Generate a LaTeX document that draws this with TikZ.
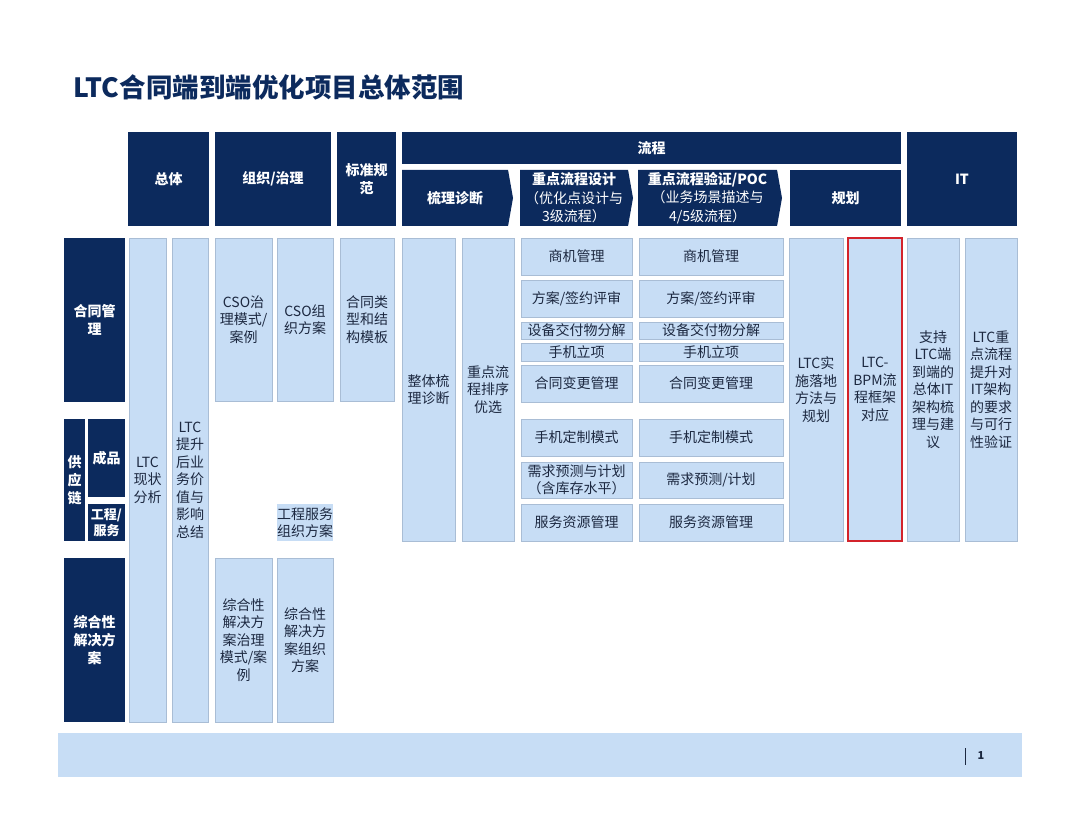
\documentclass[tikz,border=0pt]{standalone}
\usepackage{fontspec}
\setmainfont{Noto Sans CJK SC}
\usepackage{tikz}
\usetikzlibrary{shapes.symbols}
\definecolor{ltcnavy}{HTML}{0C2A5D}
\definecolor{ltcsky}{HTML}{C7DDF5}
\definecolor{ltcedge}{HTML}{A9BDD5}
\definecolor{ltcink}{HTML}{1C2840}
\definecolor{ltcred}{HTML}{D3232B}

\begin{document}
\begin{tikzpicture}[x=1pt, y=-1pt,
  hdr/.style={fill=ltcnavy, text=white, anchor=north west, inner sep=0pt, outer sep=0pt, align=center,
    font=\fontsize{14}{18}\selectfont\bfseries},
  stage/.style={fill=ltcnavy, text=white, anchor=west, inner sep=0pt, outer sep=0pt, align=center,
    signal, signal to=east, signal pointer angle=160, font=\fontsize{14}{18.5}\selectfont},
  cell/.style={fill=ltcsky, draw=ltcedge, line width=0.6pt, text=ltcink, anchor=north west, inner sep=0pt,
    outer sep=0pt, align=center, font=\fontsize{14}{17.5}\selectfont},
  sz/.style 2 args={minimum width=#1pt, minimum height=#2pt}]
  \useasboundingbox (0,0) rectangle (1080,832);

  % Title
  \node[anchor=west, text=ltcnavy, font=\fontsize{26.5}{30}\selectfont\bfseries] (title) at (70,87) {LTC合同端到端优化项目总体范围};

  % Header Row
  \node[hdr, sz={81}{94}] (hdrAll) at (128,132) {总体};
  \node[hdr, sz={116}{94}] (hdrOrg) at (215,132) {组织/治理};
  \node[hdr, sz={59}{94}] (hdrStd) at (337,132) {标准规\\范};
  \node[hdr, sz={499}{32}] (hdrFlow) at (402,132) {流程};
  \node[hdr, sz={110}{94}] (hdrIT) at (907,132) {IT};

  % Process Stages
  \node[stage, sz={111}{56}] (stgDiag) at (402,198) {\bfseries 梳理诊断};
  \node[stage, sz={113}{56}] (stgDesign) at (520,198) {\bfseries 重点流程设计\\（优化点设计与\\3级流程）};
  \node[stage, sz={144}{56}] (stgVerify) at (638,198) {\bfseries 重点流程验证/POC\\（业务场景描述与\\4/5级流程）};
  \node[hdr, sz={111}{56}] (hdrPlan) at (790,170) {规划};

  % Business Areas
  \node[hdr, sz={61}{164}] (sideContract) at (64,238) {合同管\\理};
  \node[hdr, sz={21}{122}] (sideSupply) at (64,419) {供\\应\\链};
  \node[hdr, sz={37}{78}] (sideGoods) at (88,419) {成品};
  \node[hdr, sz={37}{37}, font=\fontsize{13}{16}\selectfont\bfseries] (sideSvc) at (88,504) {工程/\\服务};
  \node[hdr, sz={61}{164}] (sideSolution) at (64,558) {综合性\\解决方\\案};

  % Overall
  \node[cell, sz={37}{484}] (asIs) at (129,238) {LTC\\现状\\分析};
  \node[cell, sz={36}{484}] (toBe) at (172,238) {LTC\\提升\\后业\\务价\\值与\\影响\\总结};

  % Organisation / Governance
  \node[cell, sz={57}{163}] (csoGov) at (215,238) {CSO治\\理模式/\\案例};
  \node[cell, sz={56}{163}] (csoOrg) at (277,238) {CSO组\\织方案};
  \node[cell, sz={56}{37}, draw=none] (svcOrg) at (277,504) {工程服务\\组织方案};
  \node[cell, sz={57}{164}] (solGov) at (215,558) {综合性\\解决方\\案治理\\模式/案\\例};
  \node[cell, sz={56}{164}] (solOrg) at (277,558) {综合性\\解决方\\案组织\\方案};

  % Standards
  \node[cell, sz={54}{163}] (tmpl) at (340,238) {合同类\\型和结\\构模板};

  % Diagnosis
  \node[cell, sz={53}{303}] (diag) at (402,238) {整体梳\\理诊断};
  \node[cell, sz={52}{303}] (rank) at (462,238) {重点流\\程排序\\优选};

  % Key Process Design
  \node[cell, sz={111}{37}] (a1) at (521,238) {商机管理};
  \node[cell, sz={111}{37}] (a2) at (521,280) {方案/签约评审};
  \node[cell, sz={111}{17}] (a3) at (521,322) {设备交付物分解};
  \node[cell, sz={111}{18}] (a4) at (521,343) {手机立项};
  \node[cell, sz={111}{37}] (a5) at (521,365) {合同变更管理};
  \node[cell, sz={111}{37}] (a6) at (521,419) {手机定制模式};
  \node[cell, sz={111}{36}] (a7) at (521,462) {需求预测与计划\\（含库存水平）};
  \node[cell, sz={111}{37}] (a8) at (521,504) {服务资源管理};

  % Key Process Verification
  \node[cell, sz={144}{37}] (b1) at (639,238) {商机管理};
  \node[cell, sz={144}{37}] (b2) at (639,280) {方案/签约评审};
  \node[cell, sz={144}{17}] (b3) at (639,322) {设备交付物分解};
  \node[cell, sz={144}{18}] (b4) at (639,343) {手机立项};
  \node[cell, sz={144}{37}] (b5) at (639,365) {合同变更管理};
  \node[cell, sz={144}{37}] (b6) at (639,419) {手机定制模式};
  \node[cell, sz={144}{36}] (b7) at (639,462) {需求预测/计划};
  \node[cell, sz={144}{37}] (b8) at (639,504) {服务资源管理};

  % Planning
  \node[cell, sz={54}{303}] (plan) at (789,238) {LTC实\\施落地\\方法与\\规划};
  \node[cell, sz={54}{303}, draw=ltcred, line width=2.5pt] (bpm) at (848,238) {LTC-\\BPM流\\程框架\\对应};

  % IT
  \node[cell, sz={52}{303}] (itArch) at (907,238) {支持\\LTC端\\到端的\\总体IT\\架构梳\\理与建\\议};
  \node[cell, sz={52}{303}] (itReq) at (965,238) {LTC重\\点流程\\提升对\\IT架构\\的要求\\与可行\\性验证};

  % Footer
  \node[fill=ltcsky, anchor=north west, inner sep=0pt, sz={964}{44}] (footer) at (58,733) {};
  \node[text=ltcink, font=\fontsize{11}{13}\selectfont\bfseries] (pgnum) at (981,756) {1};
  \draw[ltcink, line width=0.8pt] (pgnum.west) ++(-9,-8) -- ++(0,17);
\end{tikzpicture}
\end{document}
